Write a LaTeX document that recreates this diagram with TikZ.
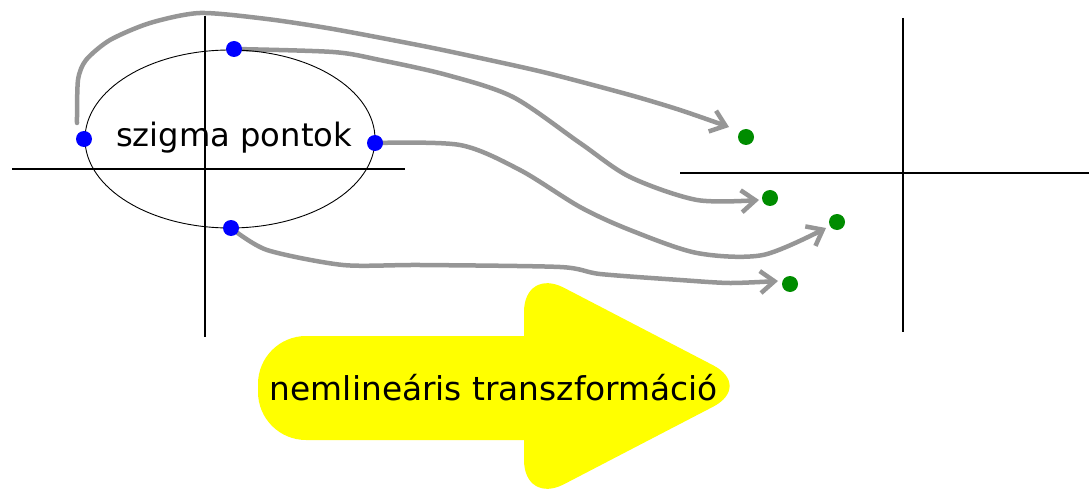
\documentclass[tikz,border=0pt]{standalone}
\usepackage{fontspec}
\setmainfont{DejaVu Sans}
\usetikzlibrary{arrows.meta,calc,backgrounds}
\definecolor{curvegray}{RGB}{150,150,150}
\definecolor{dotblue}{RGB}{0,0,255}
\definecolor{dotgreen}{RGB}{0,140,0}
\definecolor{arrowyellow}{RGB}{255,255,0}
\begin{document}
\begin{tikzpicture}[x=1pt,y=-1pt,
  axis/.style={line width=1.6pt, black},
  sdot/.style={circle, fill=dotblue, inner sep=0pt, minimum size=16pt},
  tdot/.style={circle, fill=dotgreen, inner sep=0pt, minimum size=16pt},
  map/.style={draw=curvegray, line width=4.5pt, line cap=round, line join=round,
    -{Straight Barb[length=14pt,width=22pt]}},
  lbl/.style={inner sep=0pt, text=black}
]
\useasboundingbox (0,0) rectangle (1089,489);

% yellow arrow
\fill[arrowyellow, rounded corners=48pt] (600,336) -- (258,336) -- (258,440) -- (600,440) -- cycle;
\fill[arrowyellow, rounded corners=45pt] (524,267) -- (753,386) -- (524,505) -- cycle;
\node[lbl] (nl) at (494,388) {\resizebox{448pt}{!}{nemlineáris transzformáció}};

% axes
\coordinate (lxl) at (12,169);  \coordinate (lxr) at (405,169);
\coordinate (lyt) at (205,16);  \coordinate (lyb) at (205,337);
\coordinate (rxl) at (680,173); \coordinate (rxr) at (1089,173);
\coordinate (ryt) at (903,18);  \coordinate (ryb) at (903,332);
\draw[axis] (lxl) -- (lxr);
\draw[axis] (lyt) -- (lyb);
\draw[axis] (rxl) -- (rxr);
\draw[axis] (ryt) -- (ryb);

% ellipse
\draw[line width=0.9pt] (230,139) ellipse [x radius=145pt, y radius=89pt];
\node[lbl] (sp) at (234,138) {\resizebox{236pt}{!}{szigma pontok}};

% dots
\node[sdot] (s1) at (84,139) {};
\node[sdot] (s2) at (234,49) {};
\node[sdot] (s3) at (375,143) {};
\node[sdot] (s4) at (231,228) {};
\node[tdot] (t1) at (746,137) {};
\node[tdot] (t2) at (770,198) {};
\node[tdot] (t3) at (837,222) {};
\node[tdot] (t4) at (790,284) {};

\coordinate (a1) at ($(s1)+(-7,-16)$);
\coordinate (e1) at ($(t1)+(-17,-10)$);
\coordinate (e2) at ($(t2)+(-11,2)$);
\coordinate (e3) at ($(t3)+(-11,6)$);
\coordinate (e4) at ($(t4)+(-12,-3)$);

\begin{scope}[on background layer]
\draw[map] plot[smooth, tension=0.45] coordinates {(a1) (78,80) (86,60) (110,40) (150,23) (200,13) (267,19) (333,29) (423,46) (480,58) (547,73) (630,95) (680,110) (e1)};
\draw[map] plot[smooth, tension=0.5] coordinates {(s2) (333,52) (380,60) (447,75) (513,97) (580,143) (630,177) (697,200) (e2)};
\draw[map] plot[smooth, tension=0.5] coordinates {(s3) (460,145) (520,170) (580,207) (630,230) (697,253) (763,255) (e3)};
\draw[map] plot[smooth, tension=0.45] coordinates {(s4) (267,250) (343,265) (420,265) (560,267) (600,274) (680,280) (730,283) (e4)};
\end{scope}
\end{tikzpicture}
\end{document}
